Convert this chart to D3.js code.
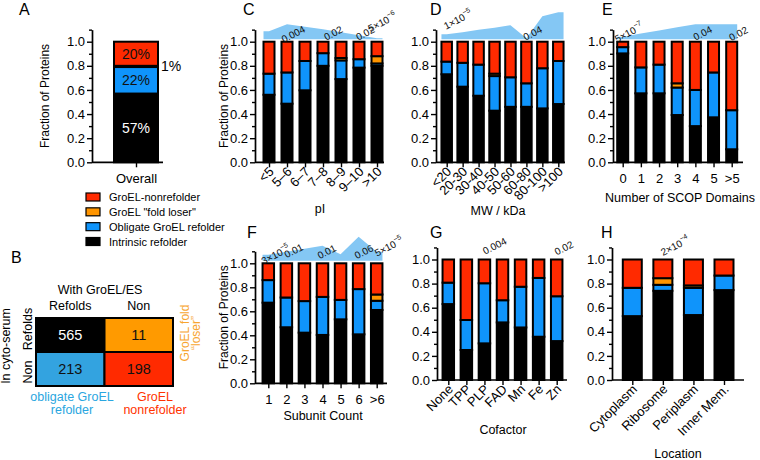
<!DOCTYPE html>
<html><head><meta charset="utf-8">
<script src="https://cdn.jsdelivr.net/npm/d3@7/dist/d3.min.js"></script>
<style>body{margin:0;background:#fff} svg{font-family:"Liberation Sans",Arial,sans-serif}</style>
</head><body><svg id="c" width="760" height="460"></svg>
<script>
// ---------- DATA ----------
const seriesKeys = ["intrinsic","obligate","loser","non"];
const legendLabels = ["GroEL-nonrefolder", 'GroEL "fold loser"', "Obligate GroEL refolder", "Intrinsic refolder"];
const legendKeys = ["non","loser","obligate","intrinsic"];

const overallCats = ["Overall"];
const overallRows = [[0.57, 0.22, 0.01, 0.20]];
const overallPct = ["57%", "22%", "1%", "20%"];

const matrixCols = ["Refolds","Non"];
const matrixRows = ["Refolds","Non"];
const matrixCounts = [[565, 11],[213, 198]];

const piCats = ["<5","5–6","6–7","7–8","8–9","9–10",">10"];
const piRows = [[0.56,0.175,0,0.265],[0.486,0.259,0,0.255],[0.597,0.243,0,0.16],[0.80,0.105,0,0.095],[0.69,0.155,0.02,0.135],[0.785,0.07,0,0.145],[0.80,0.02,0.06,0.12]];
const piArea = [8, 15, 12.5, 10, 7, 4, 1];
const piP = [["5–6","0.004"],["7–8","0.02"],["9–10","0.02"],[">10","5×10","−6"]];

const mwCats = ["<20","20-30","30-40","40-50","50-60","60-80","80-100",">100"];
const mwRows = [[0.73,0.105,0,0.165],[0.627,0.198,0,0.175],[0.552,0.258,0,0.19],[0.428,0.287,0.02,0.265],[0.46,0.245,0,0.295],[0.46,0.195,0,0.345],[0.447,0.333,0,0.22],[0.483,0.357,0,0.16]];
const mwArea = [5, 7, 9.5, 11.5, 14, 1, 23, 27];
const mwP = [["<20","1×10","−5"],["60-80","0.04"]];

const scopCats = ["0","1","2","3","4","5",">5"];
const scopRows = [[0.903,0.052,0,0.045],[0.572,0.215,0,0.213],[0.572,0.238,0,0.19],[0.392,0.228,0.035,0.345],[0.30,0.30,0,0.40],[0.373,0.372,0,0.255],[0.108,0.324,0,0.568]];
const scopArea = [2.5, 5.7, 8.8, 12, 15, 15, 15];
const scopP = [["0","5×10","−7"],["4","0.04"],[">5","0.02"]];

const subCats = ["1","2","3","4","5","6",">6"];
const subRows = [[0.672,0.188,0,0.14],[0.467,0.248,0,0.285],[0.422,0.263,0,0.315],[0.403,0.317,0,0.28],[0.533,0.162,0,0.305],[0.408,0.377,0,0.215],[0.611,0.077,0.052,0.26]];
const subArea = [6, 9, 12, 15, 6.5, 24, 9];
const subP = [["1","3×10","−5"],["2","0.01"],["4","0.01"],["6","0.06"],[">6","5×10","−5"]];

const cofCats = ["None","TPP","PLP","FAD","Mn","Fe","Zn"];
const cofRows = [[0.63,0.178,0,0.192],[0.249,0.249,0,0.502],[0.304,0.499,0,0.197],[0.478,0.184,0,0.338],[0.436,0.338,0,0.226],[0.359,0.488,0,0.153],[0.323,0.372,0,0.305]];
const cofP = [["PLP","0.004"],["Zn","0.02"]];

const locCats = ["Cytoplasm","Ribosome","Periplasm","Inner Mem."];
const locRows = [[0.53,0.235,0,0.235],[0.74,0.05,0.055,0.155],[0.539,0.226,0.02,0.215],[0.746,0.121,0,0.133]];
const locP = [["Ribosome","2×10","−4"]];

const yMajor = [0,0.2,0.4,0.6,0.8,1.0];
const yMinor = [0.1,0.3,0.5,0.7,0.9,1.1];

// ---------- STYLE ----------
const COL = {intrinsic:"#000000", obligate:"#0f94fb", loser:"#ff9500", non:"#ff2a00"};
const AREA = "#84c7f4";
const svg = d3.select("#c");

function panelLetter(t, x, y){
  svg.append("text").attr("x",x).attr("y",y).attr("font-size",16).text(t);
}

function drawPanel(o){
  const g = svg.append("g");
  const y = d3.scaleLinear().domain([0,1]).range([o.y0,o.y1]);
  const x = d3.scalePoint().domain(o.cats).range([o.c0,o.c1]);
  const bw = o.bw;
  const base = y(1) - 2.5;
  const hs = d3.scaleLinear().domain([0,10]).range([0,10]);
  if (o.area){
    const pts = o.cats.map((c,i)=>[x(c), o.area[i]]);
    pts.unshift([x(o.cats[0]) - bw/2, o.area[0]]);
    pts.push([x(o.cats[o.cats.length-1]) + bw/2, o.area[o.area.length-1]]);
    g.append("path").datum(pts)
      .attr("d", d3.area().x(d=>d[0]).y0(base).y1(d=>base - hs(d[1])))
      .attr("fill", AREA);
  }
  // stacked bars
  const data = o.rows.map((r,i)=>{const ob={cat:o.cats[i]}; seriesKeys.forEach((k,j)=>ob[k]=r[j]); return ob;});
  const stack = d3.stack().keys(seriesKeys)(data);
  stack.forEach(layer=>{
    g.append("g").selectAll("rect").data(layer.filter(d=>d[1]-d[0]>0.0001)).join("rect")
      .attr("x", d=>x(d.data.cat)-bw/2).attr("width", bw)
      .attr("y", d=>y(d[1])).attr("height", d=>y(d[0])-y(d[1]))
      .attr("fill", COL[layer.key]).attr("stroke","#000").attr("stroke-width",2);
  });
  // y axis
  const yAx = d3.scaleLinear().domain([0,1.1]).range([o.y0, y(1.1)]);
  g.append("g").attr("transform",`translate(${o.x0},0)`)
    .call(d3.axisLeft(yAx).tickValues(yMajor).tickFormat(d3.format(".1f")).tickSize(5).tickSizeOuter(0).tickPadding(2));
  g.append("g").attr("transform",`translate(${o.x0},0)`)
    .call(d3.axisLeft(yAx).tickValues(yMinor).tickFormat("").tickSize(3).tickSizeOuter(0))
    .select(".domain").remove();
  // x axis
  const xa = g.append("g").attr("transform",`translate(0,${o.y0})`)
    .call(d3.axisBottom(x).tickSize(5).tickSizeOuter(0).tickPadding(6));
  xa.select(".domain").remove();
  g.append("line").attr("x1",o.x0).attr("x2",o.x1).attr("y1",o.y0).attr("y2",o.y0)
    .attr("stroke","#000").attr("stroke-width",1.7);
  g.selectAll(".tick line").attr("stroke-width",1.4);
  g.selectAll(".domain").attr("stroke-width",1.7);
  g.selectAll(".tick text").attr("font-size",13).attr("font-family","Liberation Sans, Arial, sans-serif").attr("fill","#000");
  if (o.rotate){
    xa.selectAll(".tick text").attr("text-anchor","end").attr("dy",null).attr("y",null)
      .attr("transform","translate(5,10) rotate(-45)");
  }
  if (o.xTitle) g.append("text").attr("x",o.xTitle[1]).attr("y",o.xTitle[2]).attr("text-anchor","middle")
      .attr("font-size",12.5).text(o.xTitle[0]);
  if (o.yTitle) g.append("text").attr("transform",`translate(${o.yTitle[0]},${(o.y0+y(1.1))/2}) rotate(-90)`)
      .attr("text-anchor","middle").attr("font-size",12).text("Fraction of Proteins");
  // p-value annotations
  if (o.p){
    o.p.forEach((p,i)=>{
      const off = o.pOff[i];
      const t = g.append("text").attr("font-size",10).attr("fill","#111")
        .attr("text-anchor","middle").attr("dominant-baseline","central")
        .attr("transform",`translate(${x(p[0])+off[0]},${y(1)+off[1]}) rotate(-27)`);
      t.append("tspan").text(p[1]);
      if (p[2]) t.append("tspan").attr("font-size",7).attr("dy",-4).text(p[2]);
    });
  }
  return {x,y,g};
}

// ---------- A ----------
panelLetter("A",19,15);
const A = drawPanel({cats:overallCats, rows:overallRows, x0:92, x1:163, c0:136, c1:136, bw:44,
  y0:162.3, y1:41.7, yTitle:[49]});
{
  const r = overallRows[0];
  let cum = 0;
  const mids = r.map(v=>{const m=cum+v/2; cum+=v; return m;});
  [[0,"#fff"],[1,"#111"],[3,"#111"]].forEach(([i,c])=>{
    A.g.append("text").attr("x",A.x("Overall")).attr("y",A.y(mids[i])).attr("dominant-baseline","central")
      .attr("text-anchor","middle").attr("font-size",14).attr("fill",c).text(overallPct[i]);
  });
  A.g.append("text").attr("x",A.x("Overall")+25).attr("y",A.y(mids[2])).attr("dominant-baseline","central")
    .attr("font-size",14).text(overallPct[2]);
}
// legend
const lg = svg.append("g");
const ly = d3.scalePoint().domain(legendKeys).range([197,241.5]);
legendKeys.forEach((k,i)=>{
  lg.append("rect").attr("x",86).attr("y",ly(k)-4).attr("width",14).attr("height",8)
    .attr("fill",COL[k]).attr("stroke","#000").attr("stroke-width",1.2);
  lg.append("text").attr("x",109).attr("y",ly(k)).attr("dominant-baseline","central")
    .attr("font-size",11).text(legendLabels[i]);
});

// ---------- B ----------
panelLetter("B",11,263);
{
  const g = svg.append("g");
  const mx = d3.scaleBand().domain(matrixCols).range([36,173]);
  const my = d3.scaleBand().domain(matrixRows).range([318,386]);
  const cellCol = [["#000000","#ff9a00"],["#33a3e0","#ff2a00"]];
  const rowShift = [-6, 3];
  matrixRows.forEach((r,i)=>matrixCols.forEach((c,j)=>{
    g.append("rect").attr("x",mx(c)).attr("y",my(r)).attr("width",mx.bandwidth()).attr("height",my.bandwidth())
      .attr("fill",cellCol[i][j]).attr("stroke","#000").attr("stroke-width",2);
    g.append("text").attr("x",mx(c)+mx.bandwidth()/2).attr("y",my(r)+my.bandwidth()/2)
      .attr("text-anchor","middle").attr("dominant-baseline","central").attr("font-size",14.5)
      .attr("fill", i===0&&j===0?"#fff":"#111").text(matrixCounts[i][j]);
    if (i===0) g.append("text").attr("x",mx(c)+mx.bandwidth()/2).attr("y",310).attr("text-anchor","middle")
      .attr("font-size",12.5).text(c);
    if (j===0) g.append("text").attr("transform",`translate(32,${my(r)+my.bandwidth()/2+rowShift[i]}) rotate(-90)`)
      .attr("text-anchor","middle").attr("font-size",12.5).text(r);
  }));
  g.append("text").attr("x",100).attr("y",294).attr("text-anchor","middle").attr("font-size",12.5).text("With GroEL/ES");
  g.append("text").attr("transform","translate(10,346) rotate(-90)").attr("text-anchor","middle").attr("font-size",12.5).text("In cyto-serum");
  const t1 = g.append("text").attr("transform","translate(189,333) rotate(-90)").attr("text-anchor","middle")
    .attr("font-size",12).attr("fill","#f7a530");
  t1.append("tspan").attr("x",0).attr("dy",0).text("GroEL fold");
  t1.append("tspan").attr("x",0).attr("dy",11).text("“loser”");
  const t2 = g.append("text").attr("x",72).attr("y",401).attr("text-anchor","middle").attr("font-size",12.5).attr("fill","#2aa6e0");
  t2.append("tspan").attr("x",72).text("obligate GroEL");
  t2.append("tspan").attr("x",72).attr("dy",13).text("refolder");
  const t3 = g.append("text").attr("x",155).attr("y",401).attr("text-anchor","middle").attr("font-size",12.5).attr("fill","#ff3300");
  t3.append("tspan").attr("x",155).text("GroEL");
  t3.append("tspan").attr("x",155).attr("dy",13).text("nonrefolder");
}

// ---------- C ----------
panelLetter("C",243,15);
drawPanel({cats:piCats, rows:piRows, area:piArea, x0:255, x1:384, c0:269, c1:377, bw:11,
  y0:162.3, y1:41.7, rotate:true, xTitle:["pI",320,213], yTitle:[228],
  p:piP, pOff:[[6,-8],[10,-9],[6,-9],[5,-20]]});
// ---------- D ----------
panelLetter("D",430,15);
drawPanel({cats:mwCats, rows:mwRows, area:mwArea, x0:436, x1:565, c0:446.7, c1:558.3, bw:10.5,
  y0:162.3, y1:41.7, rotate:true, xTitle:["MW / kDa",498,215],
  p:mwP, pOff:[[11,-22.5],[6,-9]]});
// ---------- E ----------
panelLetter("E",602,15);
drawPanel({cats:scopCats, rows:scopRows, area:scopArea, x0:613, x1:743, c0:622.7, c1:731.7, bw:11,
  y0:162.3, y1:41.7, xTitle:["Number of SCOP Domains",680,201.5],
  p:scopP, pOff:[[6,-9.5],[7,-9],[6.5,-8.5]]});
// ---------- F ----------
panelLetter("F",247,238);
drawPanel({cats:subCats, rows:subRows, area:subArea, x0:255, x1:387, c0:268.3, c1:376.7, bw:11.5,
  y0:383.3, y1:263.3, xTitle:["Subunit Count",323,420], yTitle:[228],
  p:subP, pOff:[[7,-9],[7,-13],[4,-12],[5,-12],[12,-17]]});
// ---------- G ----------
panelLetter("G",430,238);
drawPanel({cats:cofCats, rows:cofRows, x0:437, x1:567, c0:448.3, c1:556.7, bw:11.5,
  y0:380, y1:259.5, rotate:true, xTitle:["Cofactor",503,434],
  p:cofP, pOff:[[10,-14],[7,-12]]});
// ---------- H ----------
panelLetter("H",601,238);
drawPanel({cats:locCats, rows:locRows, x0:612, x1:744, c0:632.3, c1:724, bw:19,
  y0:380, y1:259.5, rotate:true, xTitle:["Location",678,458],
  p:locP, pOff:[[12,-14]]});
</script></body></html>
